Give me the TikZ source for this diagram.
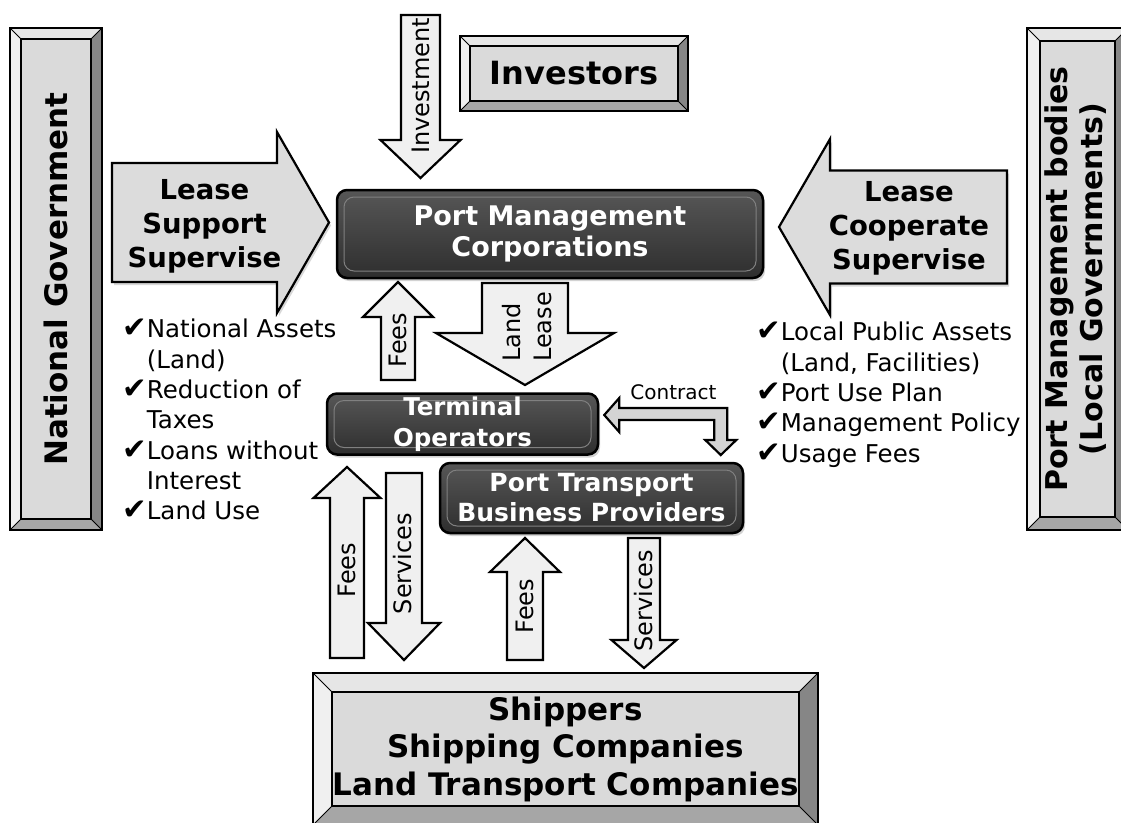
\documentclass[tikz,border=0pt]{standalone}
\usepackage{fontspec}
\setmainfont{DejaVu Sans}
\usetikzlibrary{calc,shadows}

\definecolor{facegray}{HTML}{DADADA}
\definecolor{bevtop}{HTML}{E6E6E6}
\definecolor{bevleft}{HTML}{F0F0F0}
\definecolor{bevright}{HTML}{868686}
\definecolor{bevbot}{HTML}{A6A6A6}
\definecolor{arrowfill}{HTML}{F0F0F0}
\definecolor{leasefill}{HTML}{DCDCDC}
\definecolor{contractfill}{HTML}{D4D4D4}

% check mark for the lists
\newcommand{\tick}{\scalebox{1.2}{✔}}
% vertical block arrow: [opts] x, y tail, y head base, y tip, half shaft, half head
\newcommand{\blockv}[7][]{%
  \draw[blockarrow,#1] (#2-#6,#3) -- (#2-#6,#4) -- (#2-#7,#4) -- (#2,#5)
    -- (#2+#7,#4) -- (#2+#6,#4) -- (#2+#6,#3) -- cycle;}
% horizontal block arrow: [opts] y, x tail, x head base, x tip, half shaft, half head
\newcommand{\blockh}[7][]{%
  \draw[blockarrow,#1] (#3,#2-#6) -- (#4,#2-#6) -- (#4,#2-#7) -- (#5,#2)
    -- (#4,#2+#7) -- (#4,#2+#6) -- (#3,#2+#6) -- cycle;}

\tikzset{
  bevelbox/.style={draw=black, line width=2pt, fill=facegray, inner sep=0pt,
    path picture={
      \coordinate (bbnw) at (path picture bounding box.north west);
      \coordinate (bbne) at (path picture bounding box.north east);
      \coordinate (bbsw) at (path picture bounding box.south west);
      \coordinate (bbse) at (path picture bounding box.south east);
      \fill[bevtop] (bbnw) -- (bbne) -- ($(bbne)+(-#1,#1)$) -- ($(bbnw)+(#1,#1)$) -- cycle;
      \fill[bevleft] (bbnw) -- (bbsw) -- ($(bbsw)+(#1,-#1)$) -- ($(bbnw)+(#1,#1)$) -- cycle;
      \fill[bevright] (bbne) -- (bbse) -- ($(bbse)+(-#1,-#1)$) -- ($(bbne)+(-#1,#1)$) -- cycle;
      \fill[bevbot] (bbsw) -- (bbse) -- ($(bbse)+(-#1,-#1)$) -- ($(bbsw)+(#1,-#1)$) -- cycle;
      \draw[line width=1.3pt] ($(bbnw)+(#1,#1)$) rectangle ($(bbse)+(-#1,-#1)$);
      \draw[line width=1pt] (bbnw) -- ++(#1,#1) (bbne) -- ++(-#1,#1)
        (bbsw) -- ++(#1,-#1) (bbse) -- ++(-#1,-#1);
    }},
  darkbox/.style={draw=black, line width=2.5pt, rounded corners=10pt,
    top color=black!66, bottom color=black!82, text=white, align=center,
    inner sep=0pt, drop shadow={opacity=.35, shadow xshift=2pt, shadow yshift=-3pt},
    path picture={
      \draw[black!50, line width=1pt]
        ($(path picture bounding box.north west)+(7,7)$) rectangle
        ($(path picture bounding box.south east)+(-7,-7)$);
    }},
  blockarrow/.style={draw=black, line width=2.2pt, line join=miter, fill=arrowfill},
  arrowlbl/.style={font=\fontsize{24}{31}\selectfont, inner sep=0pt, rotate=90},
  leaselbl/.style={font=\fontsize{27.5}{34}\selectfont\bfseries, align=center, inner sep=0pt},
  listtext/.style={font=\fontsize{24.5}{30.3}\selectfont, align=left, inner sep=0pt, anchor=north west}
}

\begin{document}
\begin{tikzpicture}[x=1pt,y=-1pt]
\useasboundingbox[fill=white] (0,0) rectangle (1121,822);

% block arrows
\blockh[fill=leasefill, drop shadow={opacity=.3, shadow xshift=2pt, shadow yshift=-3pt}]{222.5}{112}{277}{329}{59.5}{90.5}
\blockh[fill=leasefill, drop shadow={opacity=.3, shadow xshift=2pt, shadow yshift=-3pt}]{227}{1007}{830}{779}{56.5}{88}
\blockv{420.5}{15}{140}{178}{19.5}{40}
\blockv{398}{380}{317}{282}{17}{35}
\blockv{525}{283}{333}{385}{43}{89}
\blockv{347}{658}{498}{467}{17}{33.5}
\blockv{404}{473}{623}{660}{18}{36}
\blockv{525}{660}{572}{538}{18}{35}
\blockv{644}{538}{640}{668}{16}{32.5}

% boxes
\node[bevelbox=11, minimum width=92, minimum height=502,
  font=\fontsize{31}{36}\selectfont\bfseries] (natgov) at (56,279)
  {\rotatebox{90}{National Government}};
\node[bevelbox=13, minimum width=101, minimum height=502,
  font=\fontsize{30}{35}\selectfont\bfseries] (pmb) at (1077.5,279)
  {\rotatebox{90}{\begin{tabular}{@{}c@{}}Port Management bodies\\(Local Governments)\end{tabular}}};
\node[bevelbox=10, minimum width=228, minimum height=75,
  font=\fontsize{32}{36}\selectfont\bfseries] (investors) at (574,73.5) {Investors};
\node[bevelbox=19, minimum width=505, minimum height=152, align=center,
  font=\fontsize{31}{37.5}\selectfont\bfseries] (shippers) at (565.5,749)
  {Shippers\\Shipping Companies\\Land Transport Companies};

\node[darkbox, minimum width=426, minimum height=88,
  font=\fontsize{27}{31}\selectfont\bfseries] (pmc) at (550,234)
  {Port Management\\Corporations};
\node[darkbox, minimum width=271, minimum height=61,
  font=\fontsize{24.5}{31}\selectfont\bfseries] (term) at (462.5,424)
  {Terminal\\Operators};
\node[darkbox, minimum width=303, minimum height=70,
  font=\fontsize{25}{30}\selectfont\bfseries] (ptb) at (591.5,498)
  {Port Transport\\Business Providers};

% contract arrow between operators and providers
\draw[blockarrow, fill=contractfill] ($(term.east)+(5,-9)$) -- ++(15,-17) -- ++(0,10)
  -- ++(108,0) -- ++(0,32) -- ++(9,0) -- ++(-15.5,15) -- ++(-15.5,-15) -- ++(9,0)
  -- ++(0,-20) -- ++(-95,0) -- ++(0,12) -- cycle;
\node[font=\fontsize{20}{24}\selectfont, inner sep=0pt] (contract) at (673.5,392) {Contract};

% arrow labels
\node[leaselbl] (natlease) at (204.5,226) {Lease\\Support\\Supervise};
\node[leaselbl] (loclease) at (909,228) {Lease\\Cooperate\\Supervise};
\node[arrowlbl] (invest) at (421,86) {Investment};
\node[arrowlbl] (fees1) at (398,340) {Fees};
\node[arrowlbl, align=left] (landlease) at (527,327) {Land\\Lease};
\node[arrowlbl] (fees2) at (347,570) {Fees};
\node[arrowlbl] (serv1) at (403,563.5) {Services};
\node[arrowlbl] (fees3) at (525,606) {Fees};
\node[arrowlbl] (serv2) at (644,601) {Services};

% support lists
\node[listtext] (natlist) at (122,319) {\tick National Assets\\\hphantom{\tick}(Land)\\\tick Reduction of\\\hphantom{\tick}Taxes\\\tick Loans without\\\hphantom{\tick}Interest\\\tick Land Use};
\node[listtext] (loclist) at (756,322) {\tick Local Public Assets\\\hphantom{\tick}(Land, Facilities)\\\tick Port Use Plan\\\tick Management Policy\\\tick Usage Fees};
\end{tikzpicture}
\end{document}
